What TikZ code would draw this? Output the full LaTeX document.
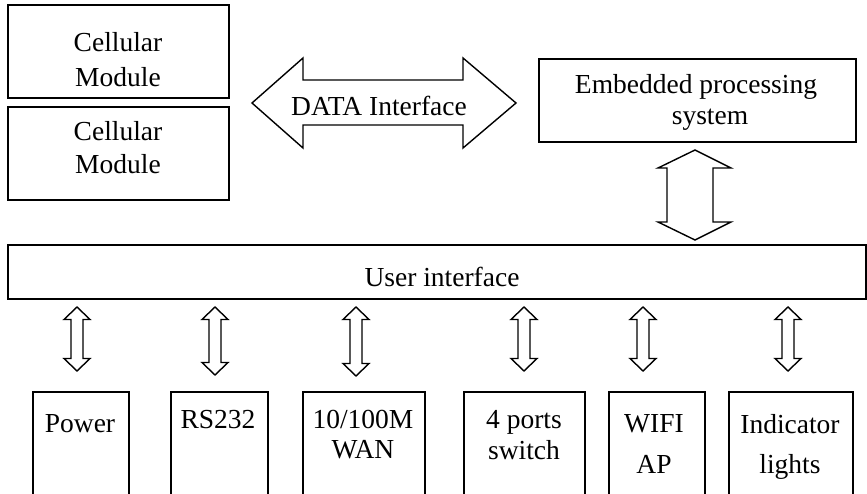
\documentclass[tikz,border=0pt]{standalone}
\usepackage{fontspec}
\setmainfont{Liberation Serif}
\newcommand{\myvarrow}[3]{%
  \draw[blk] (#1,#2) -- (#1+13,#2+12.5) -- (#1+6,#2+12.5) -- (#1+6,#3-12.5) -- (#1+13,#3-12.5) -- (#1,#3) -- (#1-13,#3-12.5) -- (#1-6,#3-12.5) -- (#1-6,#2+12.5) -- (#1-13,#2+12.5) -- cycle;}
\begin{document}
\begin{tikzpicture}[x=1pt,y=-1pt,
  box/.style={draw, line width=1.6pt, rectangle, inner sep=0pt, anchor=north west},
  txt/.style={inner sep=0pt, anchor=base, font=\fontsize{27.5}{32}\selectfont},
  blk/.style={draw, line width=1.4pt, fill=white, line join=miter}]
\useasboundingbox (0,0) rectangle (867,494);
\clip (0,0) rectangle (867,494);
% top-left modules
\node[box, minimum width=221pt, minimum height=93pt] (cm1) at (7,4) {};
\node[box, minimum width=221pt, minimum height=93pt] (cm2) at (7,106) {};
\node[txt] (cm1a) at (118,52) {Cellular};
\node[txt] (cm1b) at (118,87) {Module};
\node[txt] (cm2a) at (118,141) {Cellular};
\node[txt] (cm2b) at (118,174) {Module};
% embedded
\node[box, minimum width=317pt, minimum height=83pt] (emb) at (538,58) {};
\node[txt] (emba) at (696,94) {Embedded processing};
\node[txt] (embb) at (710,125) {system};
% user interface
\node[box, minimum width=858pt, minimum height=54pt] (ui) at (7,244) {};
\node[txt] (uit) at (442,287) {User interface};
% data interface arrow
\draw[blk] (252,103) -- (303,58) -- (303,80) -- (463,80) -- (463,58) -- (516,103) -- (463,148) -- (463,125) -- (303,125) -- (303,148) -- cycle;
\node[txt] (dat) at (379,116) {DATA Interface};
% vertical big arrow
\draw[blk] (695,150) -- (731,168) -- (713,168) -- (713,222) -- (731,222) -- (695,240) -- (658,222) -- (667,222) -- (667,168) -- (658,168) -- cycle;
% small arrows
\myvarrow{77}{307}{371}
\myvarrow{215}{307}{375}
\myvarrow{356}{307}{376}
\myvarrow{524}{307}{371}
\myvarrow{643}{307}{371}
\myvarrow{788}{307}{371}
% bottom boxes
\node[box, minimum width=96pt, minimum height=120pt] (pw) at (32,391) {};
\node[box, minimum width=97pt, minimum height=120pt] (rs) at (170,391) {};
\node[box, minimum width=122pt, minimum height=120pt] (wan) at (302,391) {};
\node[box, minimum width=121pt, minimum height=120pt] (sw) at (463,391) {};
\node[box, minimum width=96pt, minimum height=120pt] (wifi) at (608,391) {};
\node[box, minimum width=124pt, minimum height=120pt] (ind) at (728,391) {};
\node[txt] (pwt) at (80,432) {Power};
\node[txt] (rst) at (218,428) {RS232};
\node[txt] (wana) at (363,428) {10/100M};
\node[txt] (wanb) at (363,458) {WAN};
\node[txt] (swa) at (524,428) {4 ports};
\node[txt] (swb) at (524,459) {switch};
\node[txt] (wifia) at (654,432) {WIFI};
\node[txt] (wifib) at (654,473) {AP};
\node[txt] (inda) at (790,433) {Indicator};
\node[txt] (indb) at (790,473) {lights};
\end{tikzpicture}
\end{document}
